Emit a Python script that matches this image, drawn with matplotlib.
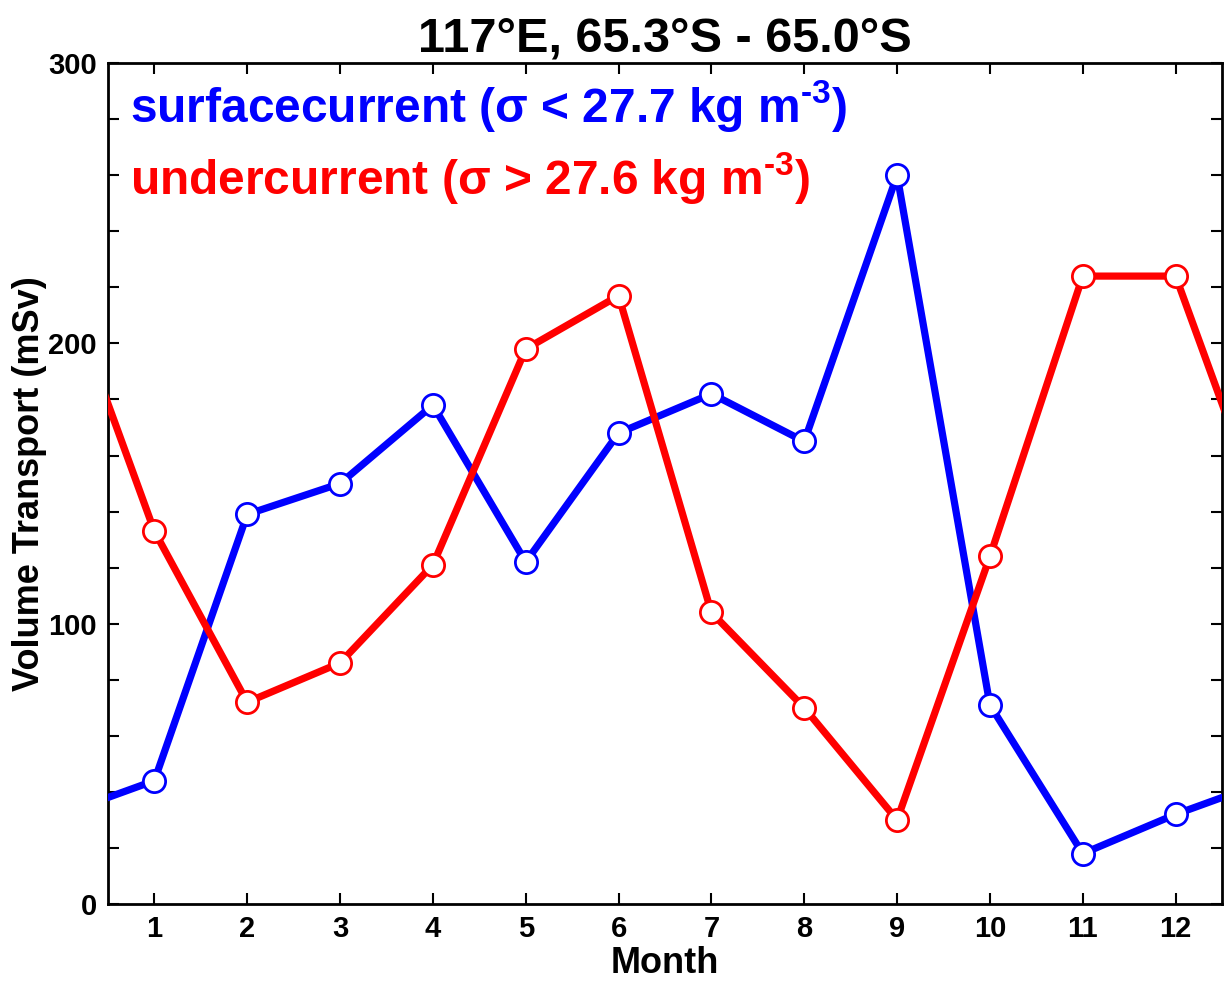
import numpy as np
import matplotlib
matplotlib.use('Agg')
import matplotlib.pyplot as plt
from matplotlib.ticker import MultipleLocator

# monthly volume transport (mSv)
months = [1, 2, 3, 4, 5, 6, 7, 8, 9, 10, 11, 12]
surface = [44, 139, 150, 178, 122, 168, 182, 165, 260, 71, 18, 32]
under = [133, 72, 86, 121, 198, 217, 104, 70, 30, 124, 224, 224]

title = '117°E, 65.3°S - 65.0°S'
surface_label = r'surfacecurrent (σ < 27.7 kg m$^{\text{-3}}$)'
under_label = r'undercurrent (σ > 27.6 kg m$^{\text{-3}}$)'

plt.rcParams['font.family'] = ['Liberation Sans', 'DejaVu Sans']
plt.rcParams['font.weight'] = 'bold'
plt.rcParams['mathtext.fontset'] = 'custom'
plt.rcParams['mathtext.rm'] = 'Liberation Sans:bold'
plt.rcParams['mathtext.bf'] = 'Liberation Sans:bold'
plt.rcParams['mathtext.default'] = 'rm'


def cyclic(vals):
    # wrap Dec before Jan and Jan after Dec so lines run to the axis edges
    x = [months[0] - 1] + months + [months[-1] + 1]
    y = [vals[-1]] + vals + [vals[0]]
    return x, y


fig = plt.figure(figsize=(12.24, 9.82), dpi=100)
ax = fig.add_axes([0.0882, 0.0794, 0.9102, 0.8564])

for vals, color in [(surface, '#0000ff'), (under, '#ff0000')]:
    x, y = cyclic(vals)
    ax.plot(x, y, color=color, lw=5.2, marker='o', ms=16, mfc='white',
            mec=color, mew=2, zorder=3)

ax.set_xlim(0.5, 12.5)
ax.set_ylim(0, 300)
ax.set_xticks(months)
ax.yaxis.set_major_locator(MultipleLocator(100))
ax.yaxis.set_minor_locator(MultipleLocator(20))
ax.tick_params(which='both', direction='in', top=True, right=True,
               length=8, width=1.5, labelsize=21, pad=8)
for s in ax.spines.values():
    s.set_linewidth(2)

ax.set_xlabel('Month', fontsize=26, fontweight='bold', labelpad=2)
ax.set_ylabel('Volume Transport (mSv)', fontsize=26, fontweight='bold', labelpad=1)
ax.set_title(title, fontsize=35, fontweight='bold', pad=8)

ax.text(0.02, 0.982, surface_label, transform=ax.transAxes, color='#0000ff',
        fontsize=34.5, fontweight='bold', va='top', ha='left')
ax.text(0.02, 0.897, under_label, transform=ax.transAxes, color='#ff0000',
        fontsize=34.5, fontweight='bold', va='top', ha='left')

fig.savefig('out.png', dpi=100)
